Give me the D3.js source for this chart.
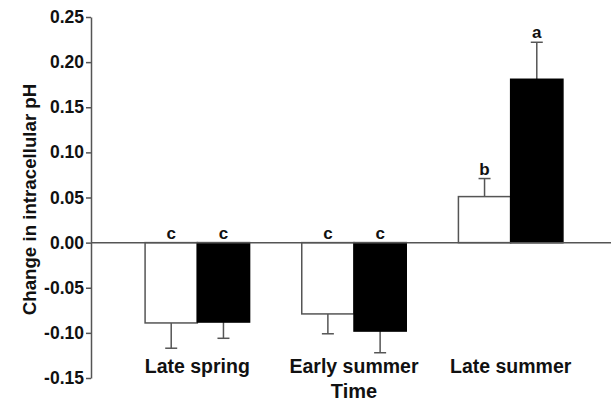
<!DOCTYPE html>
<meta charset="utf-8">
<script src="https://d3js.org/d3.v7.min.js"></script>
<style>
  body { margin: 0; background: #fff; }
  text { font-family: "Liberation Sans", Arial, sans-serif; font-weight: bold; }
</style>
<div id="chart"></div>
<script>
// data
var categories = ["Late spring", "Early summer", "Late summer"];
var series = ["open", "filled"];
var openValues = [-0.089, -0.079, 0.051];
var openErrors = [0.028, 0.022, 0.020];
var filledValues = [-0.088, -0.098, 0.181];
var filledErrors = [0.018, 0.024, 0.041];
var openLetters = ["c", "c", "b"];
var filledLetters = ["c", "c", "a"];
var yTicks = [-0.15, -0.10, -0.05, 0.00, 0.05, 0.10, 0.15, 0.20, 0.25];

var width = 611, height = 405;
var margin = {top: 17, right: 0, bottom: 27, left: 91};

var svg = d3.select("#chart").append("svg")
  .attr("width", width)
  .attr("height", height);

var y = d3.scaleLinear()
  .domain([-0.15, 0.25])
  .range([378, 17]);

// groups of two bars
var x0 = d3.scaleBand()
  .domain(categories)
  .range([119, 589])
  .paddingInner(0.333)
  .paddingOuter(0.1665);
var x1 = d3.scaleBand()
  .domain(series)
  .range([0, x0.bandwidth()]);

var rows = [];
categories.forEach(function(c, i) {
  rows.push({cat: c, s: "open", v: openValues[i], e: openErrors[i], l: openLetters[i]});
  rows.push({cat: c, s: "filled", v: filledValues[i], e: filledErrors[i], l: filledLetters[i]});
});

var axisColor = "#555";

// y axis
var yAxis = svg.append("g")
  .attr("transform", "translate(" + margin.left + ",0)")
  .call(d3.axisLeft(y).tickValues(yTicks).tickFormat(d3.format(".2f")).tickSize(5).tickSizeOuter(0));
yAxis.select(".domain").attr("stroke", axisColor).attr("stroke-width", 1.5);
yAxis.selectAll(".tick line").attr("stroke", axisColor).attr("stroke-width", 1.5);
yAxis.selectAll(".tick text")
  .attr("x", -7)
  .style("font-size", "17.5px")
  .style("font-family", "Liberation Sans, Arial, sans-serif")
  .style("font-weight", "bold")
  .attr("fill", "#111")
  .text(function(d) { return d3.format(".2f")(d).replace("−", "-"); });

// error bars (one sided, away from zero)
var eb = svg.append("g");
rows.forEach(function(d) {
  var cx = x0(d.cat) + x1(d.s) + x1.bandwidth() / 2;
  var end = d.v >= 0 ? d.v + d.e : d.v - d.e;
  eb.append("line")
    .attr("x1", cx).attr("x2", cx)
    .attr("y1", y(d.v)).attr("y2", y(end))
    .attr("stroke", axisColor).attr("stroke-width", 1.5);
  eb.append("line")
    .attr("x1", cx - 6).attr("x2", cx + 6)
    .attr("y1", y(end)).attr("y2", y(end))
    .attr("stroke", axisColor).attr("stroke-width", 1.5);
});

// bars
svg.append("g").selectAll("rect")
  .data(rows)
  .enter().append("rect")
  .attr("x", function(d) { return x0(d.cat) + x1(d.s); })
  .attr("y", function(d) { return y(Math.max(0, d.v)); })
  .attr("width", x1.bandwidth())
  .attr("height", function(d) { return Math.abs(y(d.v) - y(0)); })
  .attr("fill", function(d) { return d.s === "open" ? "#fff" : "#000"; })
  .attr("stroke", function(d) { return d.s === "open" ? axisColor : "#000"; })
  .attr("stroke-width", 1.5);

// zero line
svg.append("line")
  .attr("x1", margin.left).attr("x2", width)
  .attr("y1", y(0)).attr("y2", y(0))
  .attr("stroke", axisColor).attr("stroke-width", 1.5);

// significance letters
svg.append("g").selectAll("text")
  .data(rows)
  .enter().append("text")
  .attr("x", function(d) { return x0(d.cat) + x1(d.s) + x1.bandwidth() / 2; })
  .attr("y", function(d) { return d.v >= 0 ? y(d.v + d.e) - 4 : y(0) - 4; })
  .attr("text-anchor", "middle")
  .style("font-size", "17px")
  .attr("fill", "#111")
  .text(function(d) { return d.l; });

// category labels
svg.append("g").selectAll("text")
  .data(categories)
  .enter().append("text")
  .attr("x", function(d) { return x0(d) + x0.bandwidth() / 2; })
  .attr("y", 373)
  .attr("text-anchor", "middle")
  .style("font-size", "19.5px")
  .attr("fill", "#111")
  .text(function(d) { return d; });

// axis titles
svg.append("text")
  .attr("x", x0("Early summer") + x0.bandwidth() / 2)
  .attr("y", 398)
  .attr("text-anchor", "middle")
  .style("font-size", "20px")
  .attr("fill", "#111")
  .text("Time");

svg.append("text")
  .attr("transform", "rotate(-90)")
  .attr("x", -(y(0.05) + 2))
  .attr("y", 36)
  .attr("text-anchor", "middle")
  .style("font-size", "18.7px")
  .attr("fill", "#111")
  .text("Change in intracellular pH");
</script>
